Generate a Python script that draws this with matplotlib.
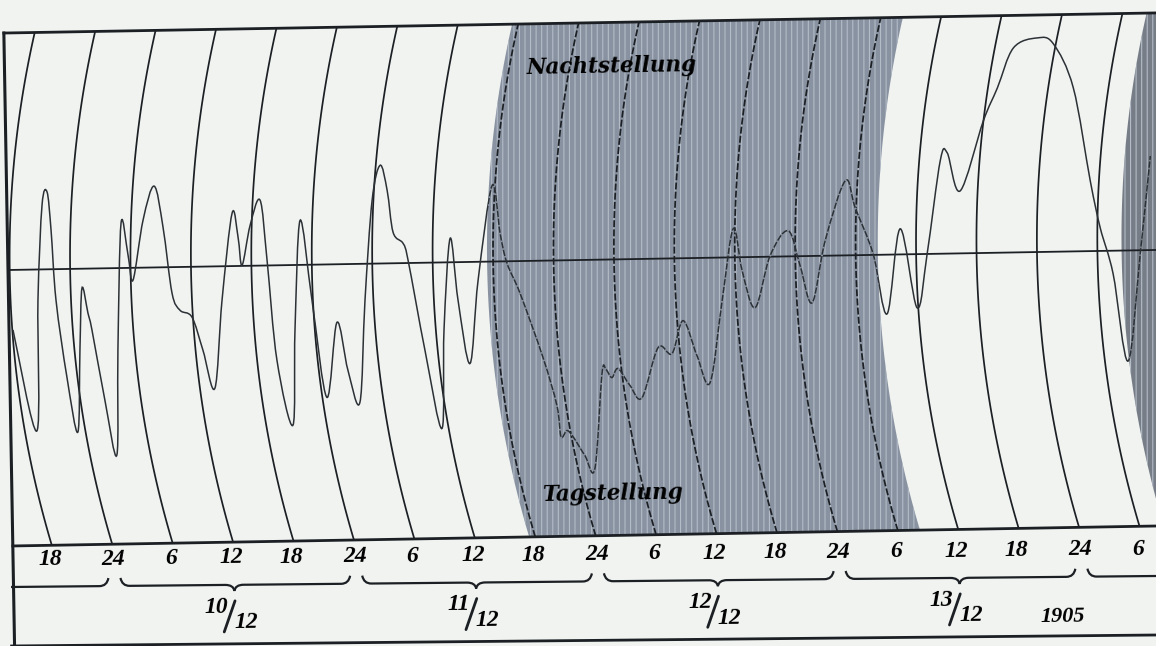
import numpy as np
import matplotlib
matplotlib.use("Agg")
import matplotlib.pyplot as plt
import matplotlib.transforms as mtransforms
from matplotlib.path import Path
from matplotlib.patches import PathPatch, Polygon

# Zeit in Stunden seit 9/12 18 Uhr, Ausschlag gegen die Mittellinie
stunden = [-3.48, -1.29, -0.95, -0.38, 0.14, 0.47, 0.84, 1.79, 2.78, 3.13,
           3.44, 3.99, 4.36, 5.52, 6.61, 6.90, 7.43, 8.07, 8.52, 9.62,
           10.78, 11.59, 12.37, 13.13, 14.31, 15.34, 16.46, 17.32, 18.47, 19.02,
           19.37, 20.24, 21.27, 21.86, 22.67, 24.14, 24.51, 25.21, 26.25, 27.56,
           28.69, 29.70, 30.83, 31.51, 32.39, 33.25, 33.90, 34.42, 35.39, 35.86,
           37.38, 38.93, 39.30, 40.07, 40.75, 41.83, 42.77, 44.33, 45.04, 45.68,
           46.92, 49.08, 50.38, 50.73, 51.33, 51.92, 53.07, 54.04, 54.91, 55.31,
           55.89, 56.51, 57.67, 58.84, 60.52, 61.89, 63.05, 64.37, 65.62, 66.96,
           68.19, 69.00, 70.22, 71.80, 73.64, 74.76, 75.89, 77.29, 79.39, 80.33,
           82.03, 83.31, 84.76, 86.30, 87.39, 88.85, 89.56, 90.78, 93.20, 94.65,
           96.31, 98.71, 100.29, 102.19, 103.71, 104.62, 105.82, 107.15, 108.54, 109.71]
ausschlag = [-60, -161.5, -30.6, 64.4, 77.3, 39.2, -30.9, -108, -163.3, -81.3,
             -19.4, -44.5, -61.5, -131.8, -187, -82, 44.9, 12.8, -12.3, 47.5,
             81.3, 40.1, -26, -43.2, -50.4, -83.6, -121.8, -34, 52.9, 28.8,
             0.7, 40.5, 65.4, 5.2, -95, -160.2, -65.3, 44.6, -35.6, -132.9,
             -58.1, -106.3, -138.5, -36.6, 63.3, 98.2, 73, 30.9, 19.7, 2.6,
             -87.7, -166, -68, 23.9, -38.3, -101.5, -18.6, 76.1, 27.9, -2.2,
             -32.4, -96.8, -145.1, -176.2, -170.3, -176.4, -195.6, -208.8, -113.9, -110,
             -118.1, -109.2, -126.4, -138.7, -89, -95.2, -62.4, -97.7, -124.9, -43.1,
             28.7, -13.5, -50.7, 1, 25.6, -9.6, -46.8, 15, 74.6, 47.4,
             1, -59.2, 25.6, -53.7, 0.1, 92.9, 100.7, 62.5, 132.1, 164.8,
             204.5, 214.1, 207.8, 163.4, 70.1, 22.9, -23.3, -110.6, -3.8, 94]

stunden_ticks = [0, 6, 12, 18, 24, 30, 36, 42, 48, 54, 60, 66, 72, 78, 84, 90, 96, 102, 108]
stunden_labels = ["18", "24", "6", "12", "18", "24", "6", "12", "18", "24",
                  "6", "12", "18", "24", "6", "12", "18", "24", "6"]
tage_mitte = [18, 42, 66, 90]
tage_zaehler = ["10", "11", "12", "13"]
tage_nenner = ["12", "12", "12", "12"]
jahr = "1905"
dunkel_von = [47.4, 110.4]
dunkel_bis = [86.2, 130.0]
dunkel_farbe = ["#8892a1", "#767d87"]

# Geometrie des Blattes (Pixel)
PX_H = 10.073          # Pixel je Stunde
U0 = 39.0              # Abstand 18 Uhr vom linken Rand
X0, Y0 = 8.0, 376.0    # linker Rand auf der Mittellinie
THETA = 1.0            # Schraeglage des Kurvenfeldes
THETA_S = 0.55         # Schraeglage der Beschriftungsleiste
R = 1010.0             # Radius der Schreibbogen
V_C = -4.0             # Hoehe des Bogenmittelpunkts
V_TOP, V_BOT, V_UNTEN = 237.0, -276.0, -376.0
H_LINKS = -U0 / PX_H
H_RECHTS = 116.0

PAPIER = "#f1f3f1"
TINTE = "#1c2024"
KURVE = "#2c3136"

plt.rcParams["lines.scale_dashes"] = False
plt.rcParams["hatch.linewidth"] = 0.8
schrift = dict(family=["Liberation Serif", "DejaVu Serif"], weight="bold", style="italic")
schrift_feld = dict(family=["DejaVu Serif"], weight="bold", style="italic")

fig = plt.figure(figsize=(11.56, 6.46), dpi=100)
fig.patch.set_facecolor(PAPIER)
ax = fig.add_axes([0, 0, 1, 1])
ax.set_xlim(0, 1156)
ax.set_ylim(0, 646)
ax.axis("off")

T = (mtransforms.Affine2D().scale(PX_H, 1).translate(U0, 0)
     .rotate_deg(THETA).translate(X0, Y0) + ax.transData)
TS = (mtransforms.Affine2D().scale(PX_H, 1).translate(U0, 0)
      .rotate_deg(THETA_S).translate(X0, Y0) + ax.transData)


def bogen(v):
    # Versatz eines Zeitbogens in Stunden, null an der Grundlinie
    return ((R - np.sqrt(R ** 2 - (v - V_C) ** 2))
            - (R - np.sqrt(R ** 2 - (V_BOT - V_C) ** 2))) / PX_H


vv = np.linspace(V_BOT, V_TOP, 120)

rahmen = Polygon([[H_LINKS, V_BOT], [H_RECHTS, V_BOT], [H_RECHTS, V_TOP], [H_LINKS, V_TOP]],
                 closed=True, transform=T, facecolor="none", edgecolor="none")
ax.add_patch(rahmen)

# Verdunkelte Zeit
dunkel_flaechen = []
for a, b, farbe in zip(dunkel_von, dunkel_bis, dunkel_farbe):
    pts = np.vstack([np.column_stack([a + bogen(vv), vv]),
                     np.column_stack([b + bogen(vv[::-1]), vv[::-1]])])
    p = Polygon(pts, closed=True, transform=T, facecolor=farbe,
                edgecolor="#b3bcc7", hatch="|||", linewidth=0, zorder=1)
    ax.add_patch(p)
    p.set_clip_path(rahmen)
    dunkel_flaechen.append((p, farbe))

# Zeitbogen
for h in stunden_ticks:
    im_dunkeln = any(a < h < b for a, b in zip(dunkel_von, dunkel_bis))
    ls = (0, (5, 1.6)) if im_dunkeln else "-"
    ln, = ax.plot(h + bogen(vv), vv, color=TINTE, lw=1.25, ls=ls, transform=T, zorder=2)
    ln.set_clip_path(rahmen)

# Mittellinie und Rahmen
ax.plot([H_LINKS, H_RECHTS], [0, 0], color=TINTE, lw=1.3, transform=T, zorder=3)
ax.plot([H_LINKS, H_RECHTS], [V_TOP, V_TOP], color=TINTE, lw=2.0, transform=T, zorder=4)
ax.plot([H_LINKS, H_RECHTS], [V_BOT, V_BOT], color=TINTE, lw=2.0, transform=T, zorder=4)
ax.plot([H_LINKS, H_RECHTS], [V_UNTEN, V_UNTEN], color=TINTE, lw=2.0, transform=TS, zorder=4)
ax.plot([H_LINKS, H_LINKS], [V_UNTEN, V_TOP], color=TINTE, lw=2.2, transform=T, zorder=4)


def glatt(x, y):
    P = np.column_stack([x, y])
    n = len(P)
    verts = [P[0]]
    codes = [Path.MOVETO]
    for i in range(n - 1):
        p0, p1 = P[max(i - 1, 0)], P[i]
        p2, p3 = P[i + 1], P[min(i + 2, n - 1)]
        verts += [p1 + (p2 - p0) / 6, p2 - (p3 - p1) / 6, p2]
        codes += [Path.CURVE4] * 3
    return Path(verts, codes)


kurve = glatt(stunden, ausschlag)
k = PathPatch(kurve, fill=False, edgecolor=KURVE, lw=1.1, transform=T, zorder=5)
ax.add_patch(k)
k.set_clip_path(rahmen)
for p, farbe in dunkel_flaechen:
    luecke = PathPatch(kurve, fill=False, edgecolor=farbe, lw=1.6, ls=(0, (1.2, 4.5)),
                       transform=T, zorder=6)
    ax.add_patch(luecke)
    luecke.set_clip_path(p)

# Beschriftung
for h, lab in zip(stunden_ticks, stunden_labels):
    ax.text(h + (0.3 if lab == "24" else 0), -290, lab, transform=TS, fontsize=17,
            ha="center", va="center", rotation=THETA_S, rotation_mode="anchor", **schrift)


def klammer(h_a, h_b, h_m=None, v=-317.0, haken_links=True):
    if haken_links:
        verts = [(h_a, v + 8), (h_a + 0.15, v), (h_a + 0.9, v)]
        codes = [Path.MOVETO, Path.CURVE3, Path.CURVE3]
    else:
        verts = [(h_a, v)]
        codes = [Path.MOVETO]
    if h_m is not None:
        verts += [(h_m - 0.9, v), (h_m - 0.1, v), (h_m, v - 6), (h_m + 0.1, v), (h_m + 0.9, v)]
        codes += [Path.LINETO, Path.CURVE3, Path.CURVE3, Path.CURVE3, Path.CURVE3]
    verts += [(h_b - 0.9, v), (h_b - 0.15, v), (h_b, v + 8)]
    codes += [Path.LINETO, Path.CURVE3, Path.CURVE3]
    return Path(verts, codes)


ax.add_patch(PathPatch(klammer(H_LINKS, 5.8, haken_links=False), fill=False, edgecolor=TINTE,
                       lw=1.6, transform=TS, zorder=4))
for m in tage_mitte:
    ax.add_patch(PathPatch(klammer(m - 11.0, m + 11.8, m + 0.3), fill=False, edgecolor=TINTE,
                           lw=1.6, transform=TS, zorder=4))
ax.add_patch(PathPatch(klammer(103.0, H_RECHTS + 5), fill=False, edgecolor=TINTE, lw=1.6,
                       transform=TS, zorder=4))

for m, z, n in zip(tage_mitte, tage_zaehler, tage_nenner):
    ax.text(m - 1.5, -339, z, transform=TS, fontsize=17, ha="center", va="center",
            rotation=THETA_S, rotation_mode="anchor", **schrift)
    ax.plot([m - 0.75, m + 0.35], [-364, -333], color=TINTE, lw=2.0, transform=TS,
            solid_capstyle="round", zorder=4)
    ax.text(m + 1.4, -355, n, transform=TS, fontsize=17, ha="center", va="center",
            rotation=THETA_S, rotation_mode="anchor", **schrift)
ax.text(100.5, -357, jahr, transform=TS, fontsize=16, ha="center", va="center",
        rotation=THETA_S, rotation_mode="anchor", **schrift)

ax.text(56.4, 193, "Nachtstellung", transform=T, fontsize=15.5, ha="center", va="center",
        rotation=THETA, rotation_mode="anchor", zorder=7, **schrift_feld)
ax.text(55.8, -234, "Tagstellung", transform=T, fontsize=15.5, ha="center", va="center",
        rotation=THETA, rotation_mode="anchor", zorder=7, **schrift_feld)

fig.savefig("out.png", dpi=100, facecolor=fig.get_facecolor())
